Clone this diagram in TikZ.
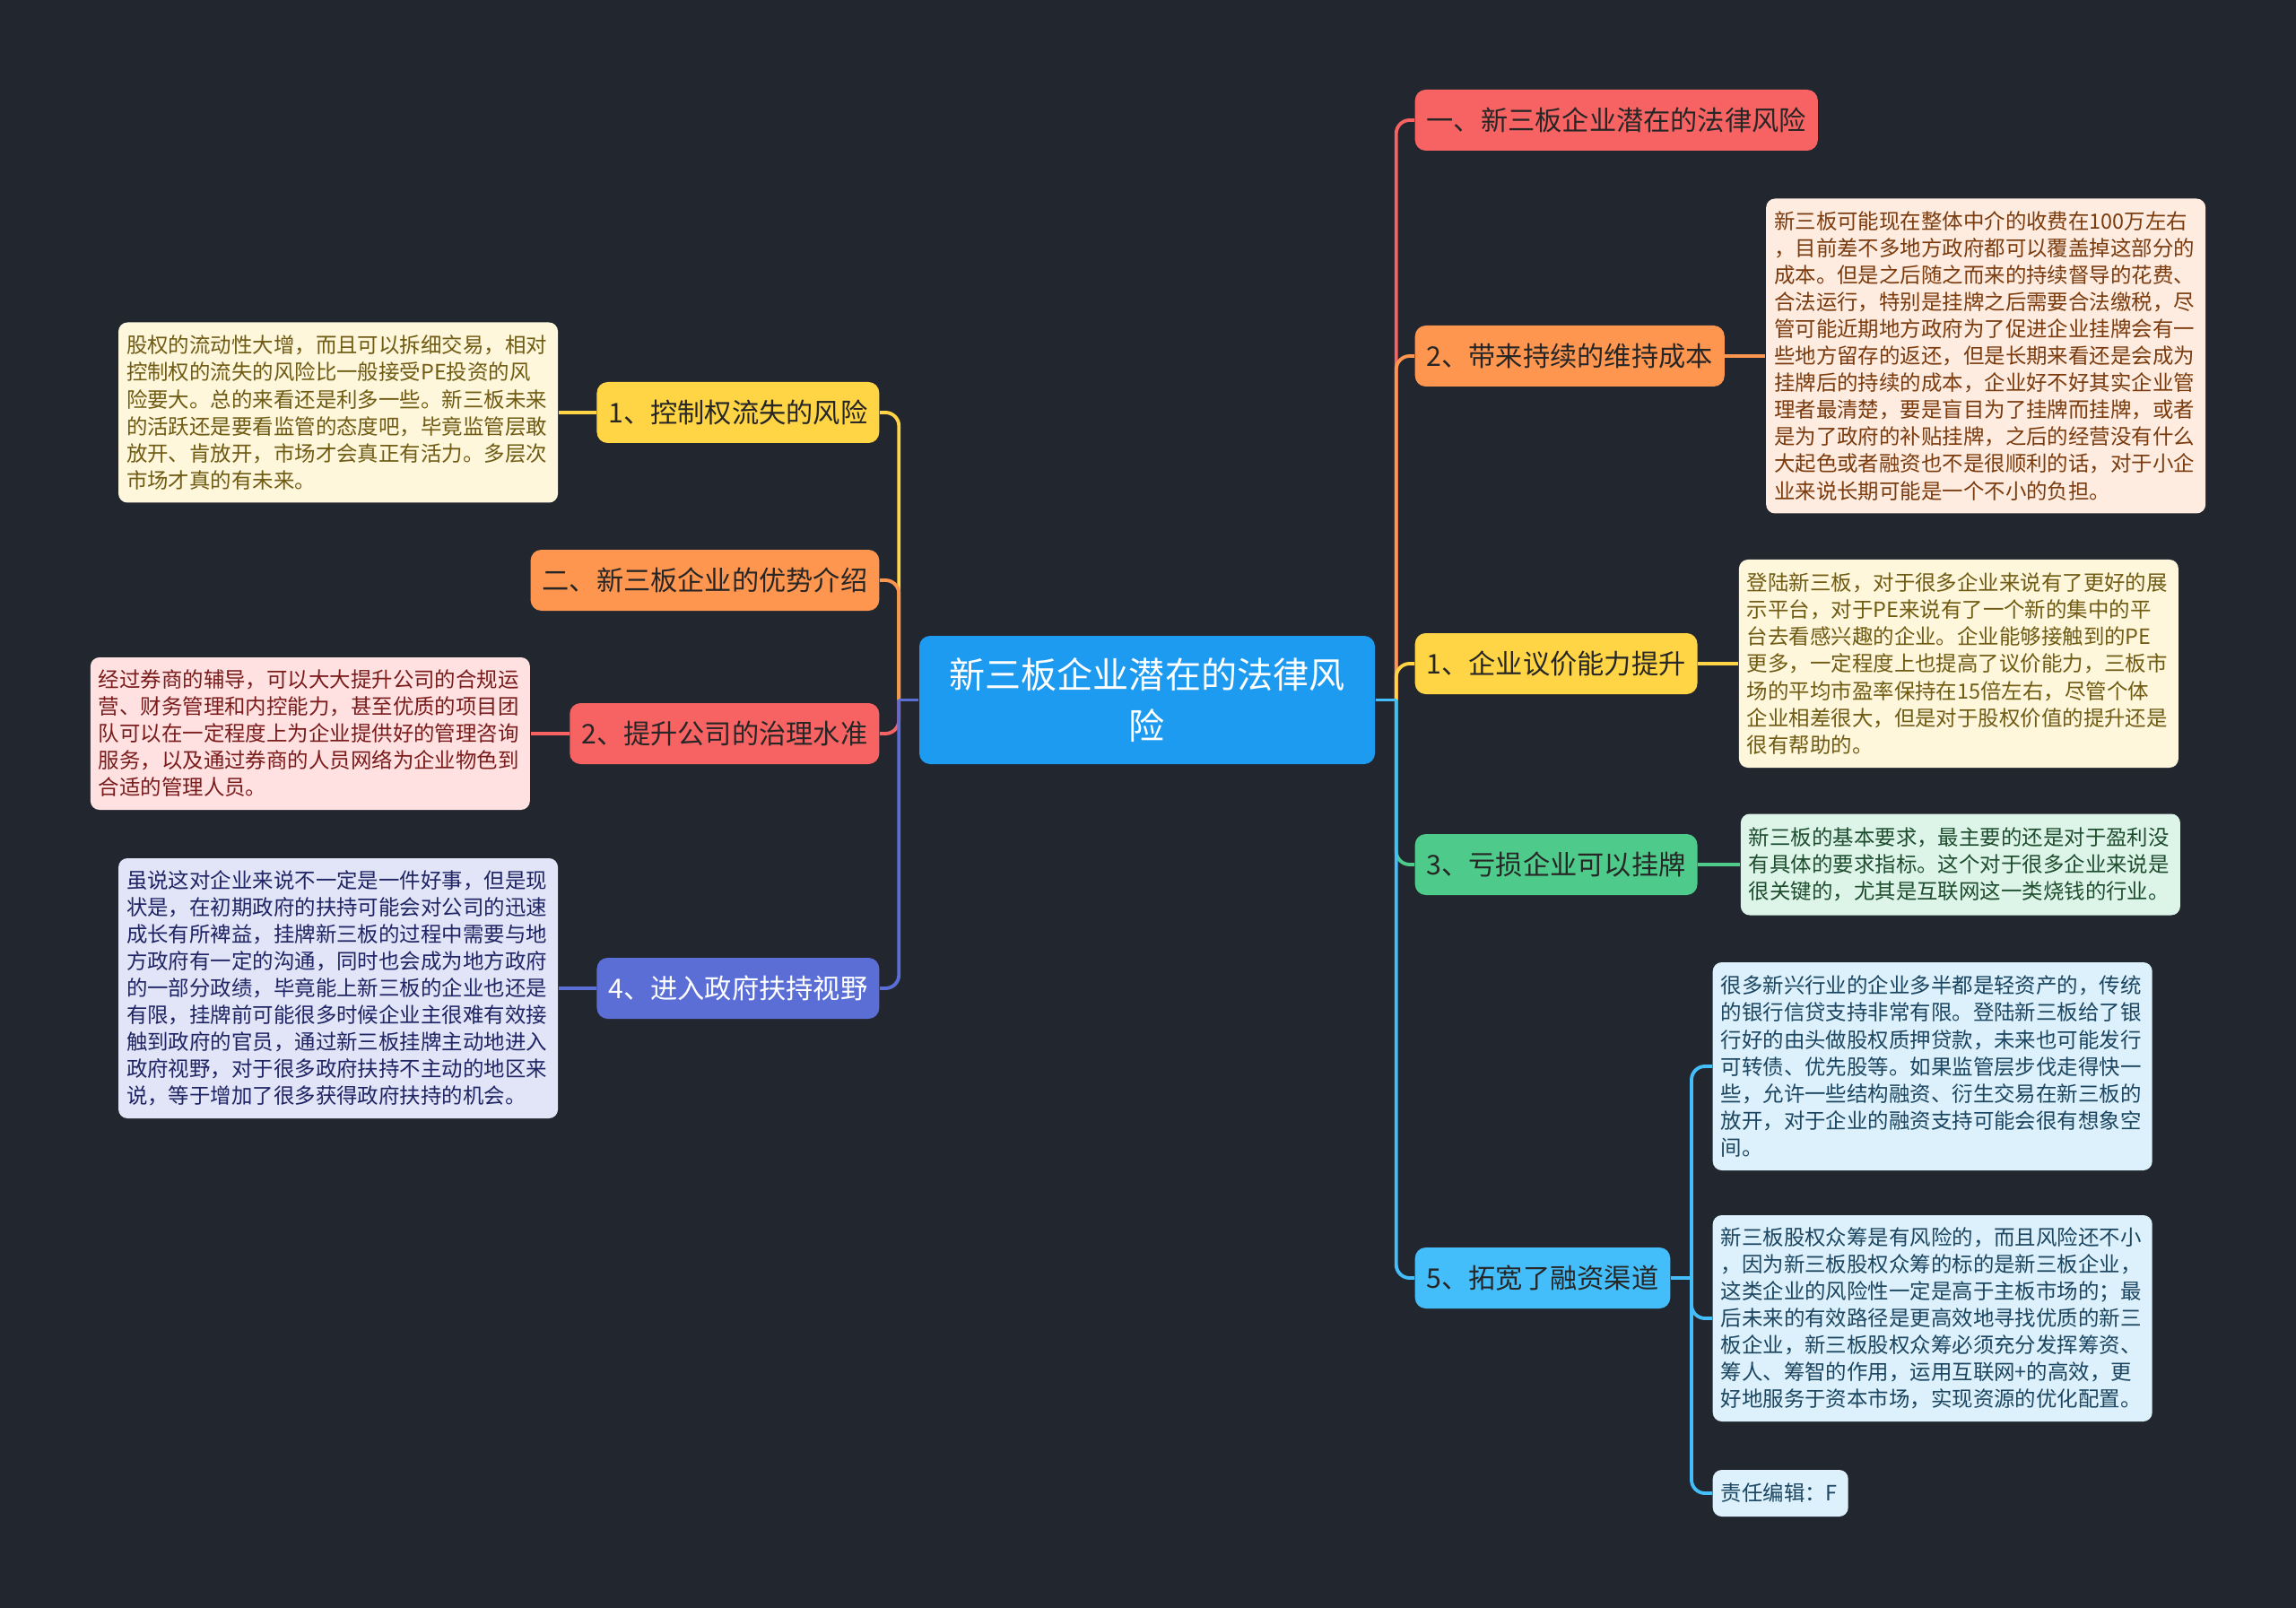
\documentclass[tikz,border=0pt]{standalone}
\usepackage{fontspec}
\setmainfont{Noto Sans CJK SC}
\usetikzlibrary{positioning,calc}

\definecolor{bg}{HTML}{22262F}
\definecolor{cMain}{HTML}{1D9BF0}
\definecolor{cRed}{HTML}{F76363}
\definecolor{cOra}{HTML}{FF9650}
\definecolor{cYel}{HTML}{FFD445}
\definecolor{cGrn}{HTML}{4ECB8A}
\definecolor{cSky}{HTML}{44BEFA}
\definecolor{cInd}{HTML}{5A6ED6}
\definecolor{dCrm}{HTML}{FFF7DB}
\definecolor{tCrm}{HTML}{6F5B14}
\definecolor{dPnk}{HTML}{FFE1E1}
\definecolor{tPnk}{HTML}{7A1C1C}
\definecolor{dLav}{HTML}{E2E5F7}
\definecolor{tLav}{HTML}{1F2464}
\definecolor{dPch}{HTML}{FFECE0}
\definecolor{tPch}{HTML}{7A3B0E}
\definecolor{dMnt}{HTML}{DDF5E9}
\definecolor{tMnt}{HTML}{1E4D2E}
\definecolor{dSky}{HTML}{DCF1FB}
\definecolor{tSky}{HTML}{1B4560}

\begin{document}
\begin{tikzpicture}
\tikzstyle{T}=[rounded corners=0.12cm,minimum height=0.68cm,inner xsep=0.13cm,inner ysep=0pt,font=\fontsize{8.6pt}{10pt}\selectfont,text=black!85]
\tikzstyle{D}=[rounded corners=0.1cm,text width=4.72cm,inner xsep=0.09cm,inner ysep=0pt,align=left,font=\fontsize{6.67pt}{8.54pt}\selectfont]
\tikzstyle{W}=[line width=1.1pt,rounded corners=0.15cm]
\fill[bg] (0,0) rectangle (25.6,-17.93);
\useasboundingbox (0,0) rectangle (25.6,-17.93);

\node[fill=cMain,text=white,rounded corners=0.12cm,minimum width=5.08cm,minimum height=1.43cm,align=center,font=\fontsize{11.4pt}{16pt}\selectfont] (c) at (12.79,-7.805) {新三板企业潜在的法律风\\险};

% right side
\node[T,fill=cRed,anchor=west] (r0) at (15.77,-1.34) {一、新三板企业潜在的法律风险};
\node[T,fill=cOra,anchor=west] (r1) at (15.77,-3.97) {2、带来持续的维持成本};
\node[T,fill=cYel,anchor=west] (r2) at (15.77,-7.40) {1、企业议价能力提升};
\node[T,fill=cGrn,anchor=west] (r3) at (15.77,-9.64) {3、亏损企业可以挂牌};
\node[T,fill=cSky,anchor=west] (r4) at (15.77,-14.25) {5、拓宽了融资渠道};

% left side
\node[T,fill=cYel,anchor=east] (l1) at (9.81,-4.60) {1、控制权流失的风险};
\node[T,fill=cOra,anchor=east] (l2) at (9.81,-6.47) {二、新三板企业的优势介绍};
\node[T,fill=cRed,anchor=east] (l3) at (9.81,-8.18) {2、提升公司的治理水准};
\node[T,fill=cInd,text=white,anchor=east] (l4) at (9.81,-11.02) {4、进入政府扶持视野};

% details
\node[D,fill=dCrm,text=tCrm,minimum height=2.01cm,left=0.42cm of l1] (l1d) {股权的流动性大增，而且可以拆细交易，相对\\控制权的流失的风险比一般接受PE投资的风\\险要大。总的来看还是利多一些。新三板未来\\的活跃还是要看监管的态度吧，毕竟监管层敢\\放开、肯放开，市场才会真正有活力。多层次\\市场才真的有未来。};
\node[D,fill=dPnk,text=tPnk,minimum height=1.70cm,left=0.43cm of l3] (l3d) {经过券商的辅导，可以大大提升公司的合规运\\营、财务管理和内控能力，甚至优质的项目团\\队可以在一定程度上为企业提供好的管理咨询\\服务，以及通过券商的人员网络为企业物色到\\合适的管理人员。};
\node[D,fill=dLav,text=tLav,minimum height=2.90cm,left=0.42cm of l4] (l4d) {虽说这对企业来说不一定是一件好事，但是现\\状是，在初期政府的扶持可能会对公司的迅速\\成长有所裨益，挂牌新三板的过程中需要与地\\方政府有一定的沟通，同时也会成为地方政府\\的一部分政绩，毕竟能上新三板的企业也还是\\有限，挂牌前可能很多时候企业主很难有效接\\触到政府的官员，通过新三板挂牌主动地进入\\政府视野，对于很多政府扶持不主动的地区来\\说，等于增加了很多获得政府扶持的机会。};
\node[D,fill=dPch,text=tPch,minimum height=3.51cm,right=0.45cm of r1] (r1d) {新三板可能现在整体中介的收费在100万左右\\，目前差不多地方政府都可以覆盖掉这部分的\\成本。但是之后随之而来的持续督导的花费、\\合法运行，特别是挂牌之后需要合法缴税，尽\\管可能近期地方政府为了促进企业挂牌会有一\\些地方留存的返还，但是长期来看还是会成为\\挂牌后的持续的成本，企业好不好其实企业管\\理者最清楚，要是盲目为了挂牌而挂牌，或者\\是为了政府的补贴挂牌，之后的经营没有什么\\大起色或者融资也不是很顺利的话，对于小企\\业来说长期可能是一个不小的负担。};
\node[D,fill=dCrm,text=tCrm,minimum height=2.32cm,right=0.45cm of r2] (r2d) {登陆新三板，对于很多企业来说有了更好的展\\示平台，对于PE来说有了一个新的集中的平\\台去看感兴趣的企业。企业能够接触到的PE\\更多，一定程度上也提高了议价能力，三板市\\场的平均市盈率保持在15倍左右，尽管个体\\企业相差很大，但是对于股权价值的提升还是\\很有帮助的。};
\node[D,fill=dMnt,text=tMnt,minimum height=1.13cm,right=0.47cm of r3] (r3d) {新三板的基本要求，最主要的还是对于盈利没\\有具体的要求指标。这个对于很多企业来说是\\很关键的，尤其是互联网这一类烧钱的行业。};
\node[D,fill=dSky,text=tSky,minimum height=2.32cm,anchor=west] (r4a) at (19.09,-11.89) {很多新兴行业的企业多半都是轻资产的，传统\\的银行信贷支持非常有限。登陆新三板给了银\\行好的由头做股权质押贷款，未来也可能发行\\可转债、优先股等。如果监管层步伐走得快一\\些，允许一些结构融资、衍生交易在新三板的\\放开，对于企业的融资支持可能会很有想象空\\间。};
\node[D,fill=dSky,text=tSky,minimum height=2.30cm,anchor=west] (r4b) at (19.09,-14.70) {新三板股权众筹是有风险的，而且风险还不小\\，因为新三板股权众筹的标的是新三板企业，\\这类企业的风险性一定是高于主板市场的；最\\后未来的有效路径是更高效地寻找优质的新三\\板企业，新三板股权众筹必须充分发挥筹资、\\筹人、筹智的作用，运用互联网+的高效，更\\好地服务于资本市场，实现资源的优化配置。};
\node[D,fill=dSky,text=tSky,text width=1.33cm,minimum height=0.52cm,anchor=west] (r4c) at (19.09,-16.65) {责任编辑：F};

% connectors
\coordinate (lj) at ($(c.west)+(-0.22,0)$); \coordinate (rj) at ($(c.east)+(0.23,0)$);
\coordinate (fj) at ($(r4.east)+(0.23,0)$);
\draw[W,cRed] (rj) |- (r0.west); \draw[W,cOra] (rj) |- (r1.west);
\draw[W,cYel] (rj) |- (r2.west); \draw[W,cGrn] (rj) |- (r3.west);
\draw[W,cSky] (rj) |- (r4.west); \draw[W,cSky] (c.east) -- (rj);
\draw[W,cYel] (lj) |- (l1.east); \draw[W,cOra] (lj) |- (l2.east);
\draw[W,cRed] (lj) |- (l3.east); \draw[W,cInd] (lj) |- (l4.east);
\draw[W,cInd] (c.west) -- (lj);
\draw[W,cYel] (l1.west) -- (l1d.east); \draw[W,cRed] (l3.west) -- (l3d.east);
\draw[W,cInd] (l4.west) -- (l4d.east);
\draw[W,cOra] (r1.east) -- (r1d.west); \draw[W,cYel] (r2.east) -- (r2d.west);
\draw[W,cGrn] (r3.east) -- (r3d.west);
\draw[W,cSky] (r4.east) -- (fj); \draw[W,cSky] (fj) |- (r4a.west);
\draw[W,cSky] (fj) |- (r4b.west); \draw[W,cSky] (fj) |- (r4c.west);
\end{tikzpicture}
\end{document}
